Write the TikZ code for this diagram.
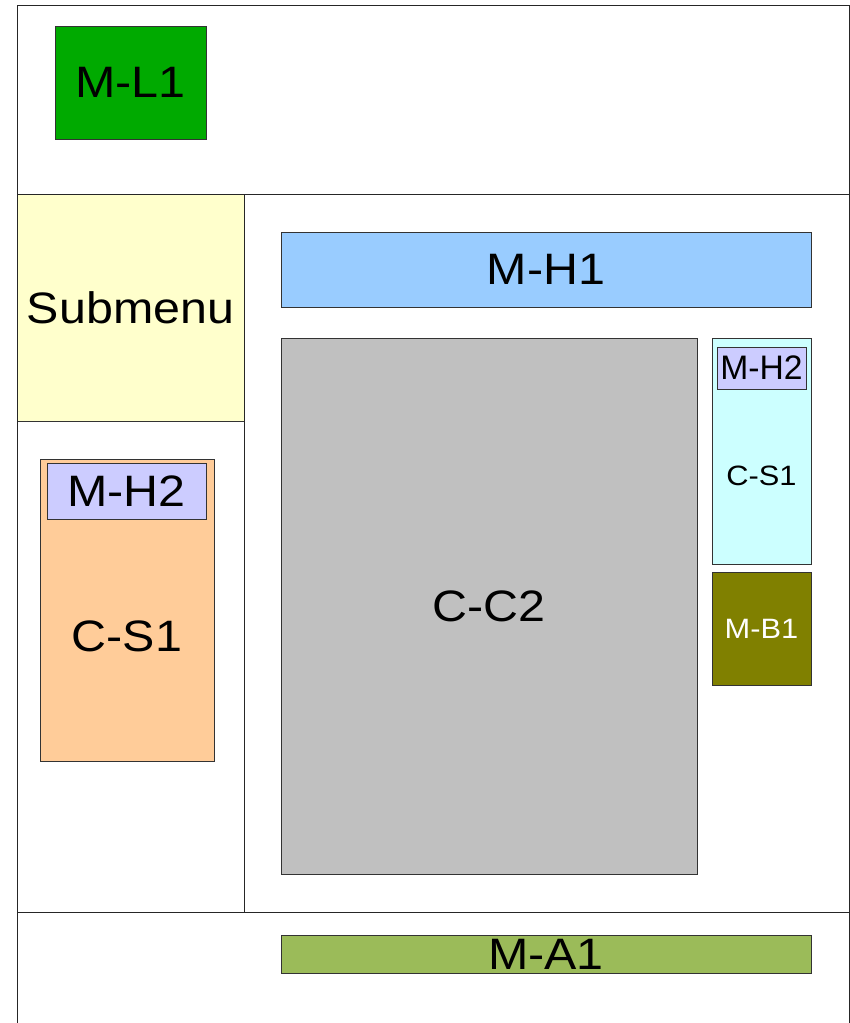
\documentclass[tikz,border=0pt]{standalone}
\usepackage{fontspec}
\setmainfont{Liberation Sans}[FakeStretch=1.1]
\definecolor{cML}{HTML}{00AA00}
\definecolor{cSub}{HTML}{FFFFCC}
\definecolor{cOr}{HTML}{FFCC99}
\definecolor{cLav}{HTML}{CCCCFF}
\definecolor{cMH}{HTML}{99CCFF}
\definecolor{cGr}{HTML}{C0C0C0}
\definecolor{cCy}{HTML}{CCFFFF}
\definecolor{cOl}{HTML}{808000}
\definecolor{cMA}{HTML}{9BBB59}
\tikzset{
  frame/.style={draw=black!85, line width=0.9pt},
  box/.style={draw=black!80, line width=0.8pt, inner sep=0pt, outer sep=0pt, anchor=north west},
  lbl/.style={inner sep=0pt, font=\fontsize{44}{48}\selectfont},
  slbl/.style={inner sep=0pt, font=\fontsize{28}{32}\selectfont},
}
\begin{document}
\begin{tikzpicture}[x=1pt,y=-1pt]
\useasboundingbox (0,0) rectangle (850,1023);
\fill[white] (0,0) rectangle (850,1023);
% regions
\node[box, fill=cSub, minimum width=227, minimum height=227] (sub) at (17,194) {};
\draw[frame] (17,1030) -- (17,5) -- (849,5) -- (849,1030);
\draw[frame] (17,194) -- (849,194);
\draw[frame] (17,912) -- (849,912);
\draw[frame] (244,194) -- (244,912);
\node[lbl] (subt) at (130.5,308) {Submenu};
% M-L1
\node[box, fill=cML, minimum width=151, minimum height=113] (ml1) at (55,26) {};
\node[lbl] (ml1t) at (ml1.center) {M-L1};
% left C-S1
\node[box, fill=cOr, minimum width=174, minimum height=302] (cs1l) at (40,459) {};
\node[box, fill=cLav, minimum width=159, minimum height=56] (mh2l) at (47,463) {};
\node[lbl] (mh2lt) at (mh2l.center) {M-H2};
\node[lbl] (cs1lt) at (127,636) {C-S1};
% M-H1
\node[box, fill=cMH, minimum width=530, minimum height=75] (mh1) at (281,232) {};
\node[lbl] (mh1t) at (mh1.center) {M-H1};
% C-C2
\node[box, fill=cGr, minimum width=416, minimum height=536] (cc2) at (281,338) {};
\node[lbl] (cc2t) at (cc2.center) {C-C2};
% right C-S1
\node[box, fill=cCy, minimum width=99, minimum height=226] (cs1r) at (712,338) {};
\node[box, fill=cLav, minimum width=89, minimum height=42] (mh2r) at (717,347) {};
\node[inner sep=0pt, font=\fontsize{34}{38}\selectfont, xscale=0.9] (mh2rt) at (mh2r.center) {M-H2};
\node[slbl] (cs1rt) at (761.5,476) {C-S1};
% M-B1
\node[box, fill=cOl, minimum width=99, minimum height=113] (mb1) at (712,572) {};
\node[slbl, text=white] (mb1t) at (mb1.center) {M-B1};
% M-A1
\node[box, fill=cMA, minimum width=530, minimum height=38] (ma1) at (281,935) {};
\node[lbl] (ma1t) at (546,954) {M-A1};
\end{tikzpicture}
\end{document}
